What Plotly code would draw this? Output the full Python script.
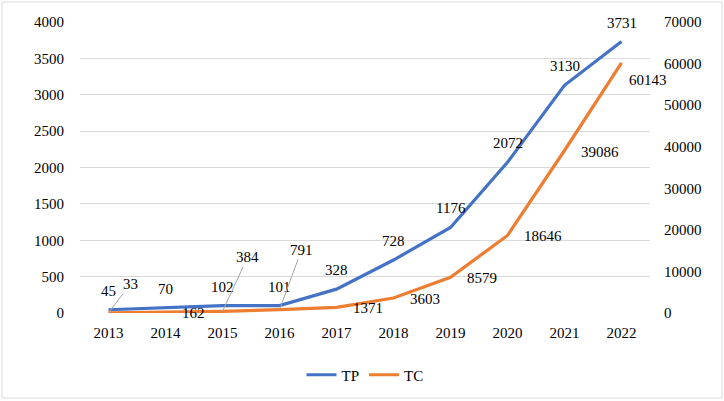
import plotly.graph_objects as go

years = ["2013", "2014", "2015", "2016", "2017", "2018", "2019", "2020", "2021", "2022"]
tp = [45, 70, 102, 101, 328, 728, 1176, 2072, 3130, 3731]
tc = [33, 162, 384, 791, 1371, 3603, 8579, 18646, 39086, 60143]

BLUE = "#4472C4"
ORANGE = "#ED7D31"
GRID = "#d9d9d9"
FONT = "Liberation Serif, Times New Roman, serif"
TXT = "#000000"

fig = go.Figure()
fig.add_trace(go.Scatter(x=years, y=tp, name="TP", mode="lines",
                         line=dict(color=BLUE, width=3.2), yaxis="y"))
fig.add_trace(go.Scatter(x=years, y=tc, name="TC", mode="lines",
                         line=dict(color=ORANGE, width=3.2), yaxis="y2"))

annotations = []
# TP labels: above the points (x given as category index)
for i, yv in enumerate(tp):
    annotations.append(dict(x=i, y=yv, xref="x", yref="y", text=str(yv),
                            showarrow=False, xanchor="center", yanchor="middle",
                            yshift=19, font=dict(family=FONT, size=15, color=TXT)))

# TC labels: to the right, some with leader lines
leader = {0: (22, -29), 2: (25, -54), 3: (22, -60)}
for i, yv in enumerate(tc):
    if i in leader:
        ax, ay = leader[i]
        annotations.append(dict(x=i, y=yv, xref="x", yref="y2", text=str(yv),
                                showarrow=True, arrowhead=0, arrowwidth=1,
                                arrowcolor="#a6a6a6", ax=ax, ay=ay,
                                font=dict(family=FONT, size=15, color=TXT)))
    elif i == len(tc) - 1:
        annotations.append(dict(x=i, y=yv, xref="x", yref="y2", text=str(yv),
                                showarrow=False, xanchor="left", yanchor="middle",
                                xshift=5, yshift=-17,
                                font=dict(family=FONT, size=15, color=TXT)))
    else:
        annotations.append(dict(x=i, y=yv, xref="x", yref="y2", text=str(yv),
                                showarrow=False, xanchor="left", yanchor="middle",
                                xshift=14, yshift=-1,
                                font=dict(family=FONT, size=15, color=TXT)))

fig.update_layout(
    width=724, height=401,
    margin=dict(l=80, r=74, t=22, b=88, autoexpand=False),
    paper_bgcolor="white", plot_bgcolor="white",
    font=dict(family=FONT, size=15, color=TXT),
    showlegend=True,
    legend=dict(orientation="h", x=0.5, xanchor="center", y=-0.213, yanchor="middle",
                font=dict(family=FONT, size=15, color=TXT)),
    xaxis=dict(type="category", range=[-0.5, 9.5], showgrid=False, showline=False,
               zeroline=False, ticks="outside", ticklen=6, tickcolor="rgba(0,0,0,0)",
               tickfont=dict(family=FONT, size=15, color=TXT)),
    yaxis=dict(range=[0, 4000], dtick=500, tick0=0, showgrid=True, gridcolor=GRID,
               gridwidth=1, showline=False, zeroline=False,
               ticks="outside", ticklen=12, tickcolor="rgba(0,0,0,0)",
               tickfont=dict(family=FONT, size=15, color=TXT)),
    yaxis2=dict(range=[0, 70000], dtick=10000, tick0=0, overlaying="y", side="right",
                showgrid=False, showline=False, zeroline=False,
                ticks="outside", ticklen=10, tickcolor="rgba(0,0,0,0)",
                tickformat="d",
                tickfont=dict(family=FONT, size=15, color=TXT)),
    annotations=annotations,
    shapes=[dict(type="rect", xref="paper", yref="paper",
                 x0=(2 - 80) / 570, x1=(722 - 80) / 570,
                 y0=(313 - 398) / 291, y1=(313 - 2) / 291,
                 line=dict(color=GRID, width=1), fillcolor="rgba(0,0,0,0)", layer="below")],
)

fig.write_html("out.html", config={"displayModeBar": False},
               post_script="document.body.style.margin='0';")
